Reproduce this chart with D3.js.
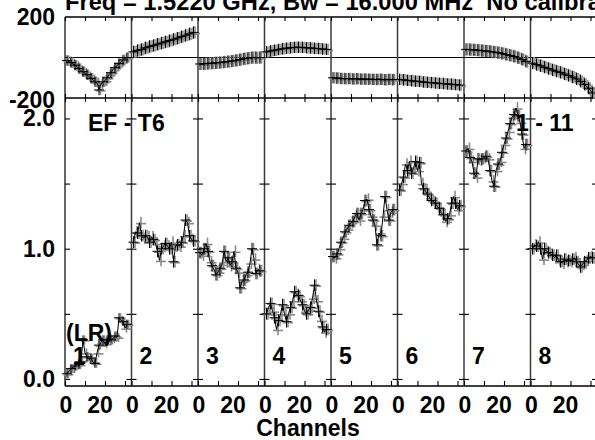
<!DOCTYPE html>
<html><head><meta charset="utf-8">
<script src="https://cdn.jsdelivr.net/npm/d3@7"></script>
<style>
html,body{margin:0;padding:0;background:#fff;overflow:hidden}
svg{display:block}
text{font-family:"Liberation Sans",Arial,Helvetica,sans-serif;font-weight:bold;fill:#000;white-space:pre}
</style>
</head><body>
<svg id="c" width="595" height="440"></svg>
<script>
// ---------- data ----------
const channels = [1,2,3,4,5,6,7,8,9,10,11,12,13,14,15,16,17,18,19,20,21,22,23,24,25,26,27,28,29,30,31];
const panelLabels = ["1","2","3","4","5","6","7","8"];
const titleText = "Freq = 1.5220 GHz, Bw = 16.000 MHz  No calibration";
const baselineLabel = "EF - T6";
const rangeLabel = "1 - 11";
const polLabel = "(LR)";
const xAxisTitle = "Channels";

const amp1 = [0.04,0.06,0.08,0.09,0.10,0.12,0.11,0.14,0.30,0.20,0.17,0.15,0.16,0.13,0.12,0.20,0.26,0.28,0.30,0.27,0.30,0.32,0.30,0.31,0.33,0.32,0.47,0.45,0.44,0.39,0.42];
const amp2 = [1.05,1.13,1.12,1.20,1.10,1.08,1.10,1.09,1.05,1.09,1.07,1.04,0.98,0.91,1.00,1.02,1.04,1.02,1.00,1.05,0.90,1.02,1.03,1.02,1.05,1.10,1.22,1.20,1.10,1.07,1.06];
const amp3 = [0.97,0.95,1.00,1.04,0.98,0.90,0.87,0.84,0.80,0.82,0.85,0.88,0.98,0.90,0.93,0.87,0.90,0.98,0.85,0.82,0.70,0.75,0.76,0.80,0.82,0.89,1.00,0.92,0.81,0.84,0.83];
const amp4 = [0.50,0.55,0.58,0.52,0.47,0.38,0.45,0.50,0.57,0.50,0.44,0.50,0.55,0.60,0.67,0.65,0.64,0.60,0.57,0.52,0.50,0.53,0.55,0.62,0.72,0.60,0.52,0.45,0.40,0.36,0.38];
const amp5 = [0.94,0.93,0.96,1.00,1.05,1.08,1.13,1.15,1.18,1.20,1.21,1.25,1.27,1.22,1.27,1.30,1.37,1.38,1.30,1.25,1.22,1.18,1.03,1.12,1.10,1.25,1.40,1.30,1.22,1.28,1.30];
const amp6 = [1.45,1.50,1.55,1.65,1.60,1.67,1.58,1.62,1.67,1.60,1.66,1.50,1.46,1.44,1.42,1.39,1.37,1.36,1.35,1.32,1.31,1.27,1.26,1.21,1.23,1.26,1.35,1.40,1.35,1.30,1.33];
const amp7 = [1.75,1.77,1.70,1.67,1.58,1.55,1.69,1.68,1.69,1.70,1.71,1.69,1.60,1.52,1.48,1.60,1.65,1.67,1.74,1.80,1.85,1.90,1.96,2.01,2.03,2.08,2.02,1.97,1.88,1.77,1.80];
const amp8 = [1.00,1.03,1.02,1.05,1.00,0.92,1.00,0.98,0.97,0.96,0.95,0.93,0.95,0.91,0.90,0.89,0.92,0.90,0.91,0.90,0.92,0.93,0.90,0.88,0.86,0.88,0.90,0.91,0.93,0.94,0.93];

const phase1 = [-15,-20,-25,-32,-38,-45,-55,-65,-70,-78,-85,-95,-103,-110,-120,-125,-160,-130,-120,-115,-100,-85,-75,-60,-50,-40,-30,-22,-12,-5,0];
const phase2 = [28,30,35,38,40,45,48,50,55,57,60,63,66,68,72,75,78,80,84,86,90,93,96,100,103,106,110,113,117,120,124];
const phase3 = [-32,-33,-31,-30,-29,-28,-28,-27,-26,-25,-25,-24,-22,-21,-20,-19,-17,-15,-14,-12,-10,-8,-6,-5,-3,-2,0,1,-1,0,0];
const phase4 = [28,30,32,35,36,38,40,42,43,45,46,47,48,50,50,52,50,51,50,49,48,48,47,46,45,45,44,43,42,41,40];
const phase5 = [-100,-102,-101,-103,-104,-103,-105,-104,-104,-105,-106,-104,-105,-106,-107,-106,-107,-108,-107,-108,-108,-109,-108,-107,-108,-109,-110,-109,-108,-110,-109];
const phase6 = [-108,-110,-110,-112,-113,-114,-115,-116,-117,-118,-118,-120,-121,-122,-123,-124,-124,-125,-126,-127,-128,-128,-129,-130,-131,-132,-132,-133,-134,-135,-136];
const phase7 = [40,40,39,38,38,37,36,35,34,33,32,31,30,28,27,25,24,22,20,18,15,13,10,8,5,2,-2,-6,-10,-15,-20];
const phase8 = [-28,-32,-35,-38,-41,-45,-48,-52,-55,-58,-62,-65,-68,-71,-74,-78,-82,-85,-89,-93,-97,-101,-106,-112,-118,-125,-133,-142,-152,-163,-175];

const ampErr = [0.035,0.045,0.045,0.045,0.045,0.045,0.045,0.045];
const phaseErr = [26,30,30,28,28,28,30,30];

const ampTickValues = [0,0.5,1.0,1.5,2.0];
const ampLabelValues = [0,1,2];
const ampLabelText = ["0.0","1.0","2.0"];
const phaseLabelValues = [200,-200];
const phaseLabelText = ["200","-200"];
const chanTickValues = [0,10,20,30];
const chanLabelValues = [0,20];
const chanLabelText = ["0","20"];

const ampSeries = [amp1,amp2,amp3,amp4,amp5,amp6,amp7,amp8];
const phaseSeries = [phase1,phase2,phase3,phase4,phase5,phase6,phase7,phase8];

// ---------- layout ----------
const svg = d3.select("#c");
const L = 65, PW = 66.5, NP = 8;
const R = L + NP*PW;
const phTop = 17, phBot = 98, ampBot = 386;
const FS = 23;

const yAmp = d3.scaleLinear().domain([-0.054, 2.157]).range([ampBot, phBot]);
const yPh = d3.scaleLinear().domain([-200, 200]).range([phBot, phTop]);
const xScales = d3.range(NP).map(i => d3.scaleLinear().domain([0, 33.25]).range([L + i*PW, L + (i+1)*PW]));

const frame = svg.append("g");
frame.append("line").attr("x1",L).attr("x2",R).attr("y1",yPh(0)).attr("y2",yPh(0)).attr("stroke","#000").attr("stroke-width",1.2);

function cleanAxis(g){ g.select(".domain").remove(); g.selectAll("text").remove(); g.selectAll("line").attr("stroke","#000").attr("stroke-width",1.1); }

xScales.forEach((x,i) => {
  svg.append("g").attr("transform",`translate(0,${phTop})`).call(d3.axisTop(x).tickValues(chanTickValues).tickSize(-4)).call(cleanAxis);
  svg.append("g").attr("transform",`translate(0,${phBot})`).call(d3.axisBottom(x).tickValues(chanTickValues).tickSize(-4)).call(cleanAxis);
  svg.append("g").attr("transform",`translate(0,${phBot})`).call(d3.axisTop(x).tickValues(chanTickValues).tickSize(-4)).call(cleanAxis);
  svg.append("g").attr("transform",`translate(0,${ampBot})`).call(d3.axisBottom(x).tickValues(chanTickValues).tickSize(-5)).call(cleanAxis);
  const lab = svg.append("g");
  chanLabelValues.forEach((v,k) => {
    lab.append("text").attr("x", x(v) + (v===0 ? 1 : -5)).attr("y", 413)
      .attr("text-anchor","middle").attr("font-size",FS).text(chanLabelText[k]);
  });
});

for (let i=0;i<=NP;i++){
  const bx = L + i*PW;
  svg.append("g").attr("transform",`translate(${bx},0)`).call(d3.axisLeft(yAmp).tickValues(ampTickValues).tickSize(-5)).call(cleanAxis);
  if (i>0) svg.append("g").attr("transform",`translate(${bx},0)`).call(d3.axisRight(yAmp).tickValues(ampTickValues).tickSize(-5)).call(cleanAxis);
}

[phTop, phBot, ampBot].forEach(y => frame.append("line").attr("x1",L).attr("x2",R).attr("y1",y).attr("y2",y).attr("stroke","#000").attr("stroke-width",1.3));
for (let i=0;i<=NP;i++){
  const bx = L + i*PW;
  frame.append("line").attr("x1",bx).attr("x2",bx).attr("y1",phTop).attr("y2",ampBot)
    .attr("stroke", i===0 ? "#000" : "#3a3a3a").attr("stroke-width", i===0 ? 1.2 : 1.5);
}

// ---------- data marks ----------
const marks = svg.append("g");
function drawSeries(vals, x, y, err, hw){
  const pts = channels.map((c,k) => ({c, v: vals[k]}));
  const grey = marks.append("g").attr("stroke","#8a8a8a").attr("stroke-width",1.6);
  const blk = marks.append("g").attr("stroke","#000").attr("stroke-width",1);
  pts.forEach(p => {
    const px = x(p.c), py = y(p.v);
    grey.append("line").attr("x1",px+1.5).attr("x2",px+1.5).attr("y1",y(p.v-err)).attr("y2",y(p.v+err));
    grey.append("line").attr("x1",px+1.5-hw).attr("x2",px+1.5+hw).attr("y1",py+1).attr("y2",py+1);
  });
  pts.forEach((p,k) => {
    if (k%2) return;
    const px = x(p.c), py = y(p.v);
    blk.append("line").attr("x1",px).attr("x2",px).attr("y1",y(p.v-err)).attr("y2",y(p.v+err));
    blk.append("line").attr("x1",px-hw).attr("x2",px+hw).attr("y1",py).attr("y2",py);
  });
  marks.append("path").datum(pts)
    .attr("d", d3.line().x(p => x(p.c)).y(p => y(p.v)))
    .attr("fill","none").attr("stroke","#000").attr("stroke-width",1);
}
for (let i=0;i<NP;i++){
  drawSeries(ampSeries[i], xScales[i], yAmp, ampErr[i], 5);
  drawSeries(phaseSeries[i], xScales[i], yPh, phaseErr[i], 5);
}

// ---------- text ----------
svg.append("text").attr("x",L).attr("y",10).attr("font-size",23.7).text(titleText);
ampLabelValues.forEach((v,k) => svg.append("text").attr("x",55).attr("y",yAmp(v)+8).attr("text-anchor","end").attr("font-size",FS).text(ampLabelText[k]));
phaseLabelValues.forEach((v,k) => svg.append("text").attr("x",55).attr("y",yPh(v)+(v<0?10:8)).attr("text-anchor","end").attr("font-size",FS).text(phaseLabelText[k]));
panelLabels.forEach((t,i) => svg.append("text").attr("x",L+i*PW+8).attr("y",364).attr("font-size",FS).text(t));
svg.append("text").attr("x",66).attr("y",341).attr("font-size",FS).text(polLabel);
svg.append("text").attr("x",88).attr("y",131).attr("font-size",FS).text(baselineLabel);
svg.append("text").attr("x",516).attr("y",131).attr("font-size",FS).text(rangeLabel);
svg.append("text").attr("x",308).attr("y",436).attr("text-anchor","middle").attr("font-size",FS).text(xAxisTitle);
</script>
</body></html>
